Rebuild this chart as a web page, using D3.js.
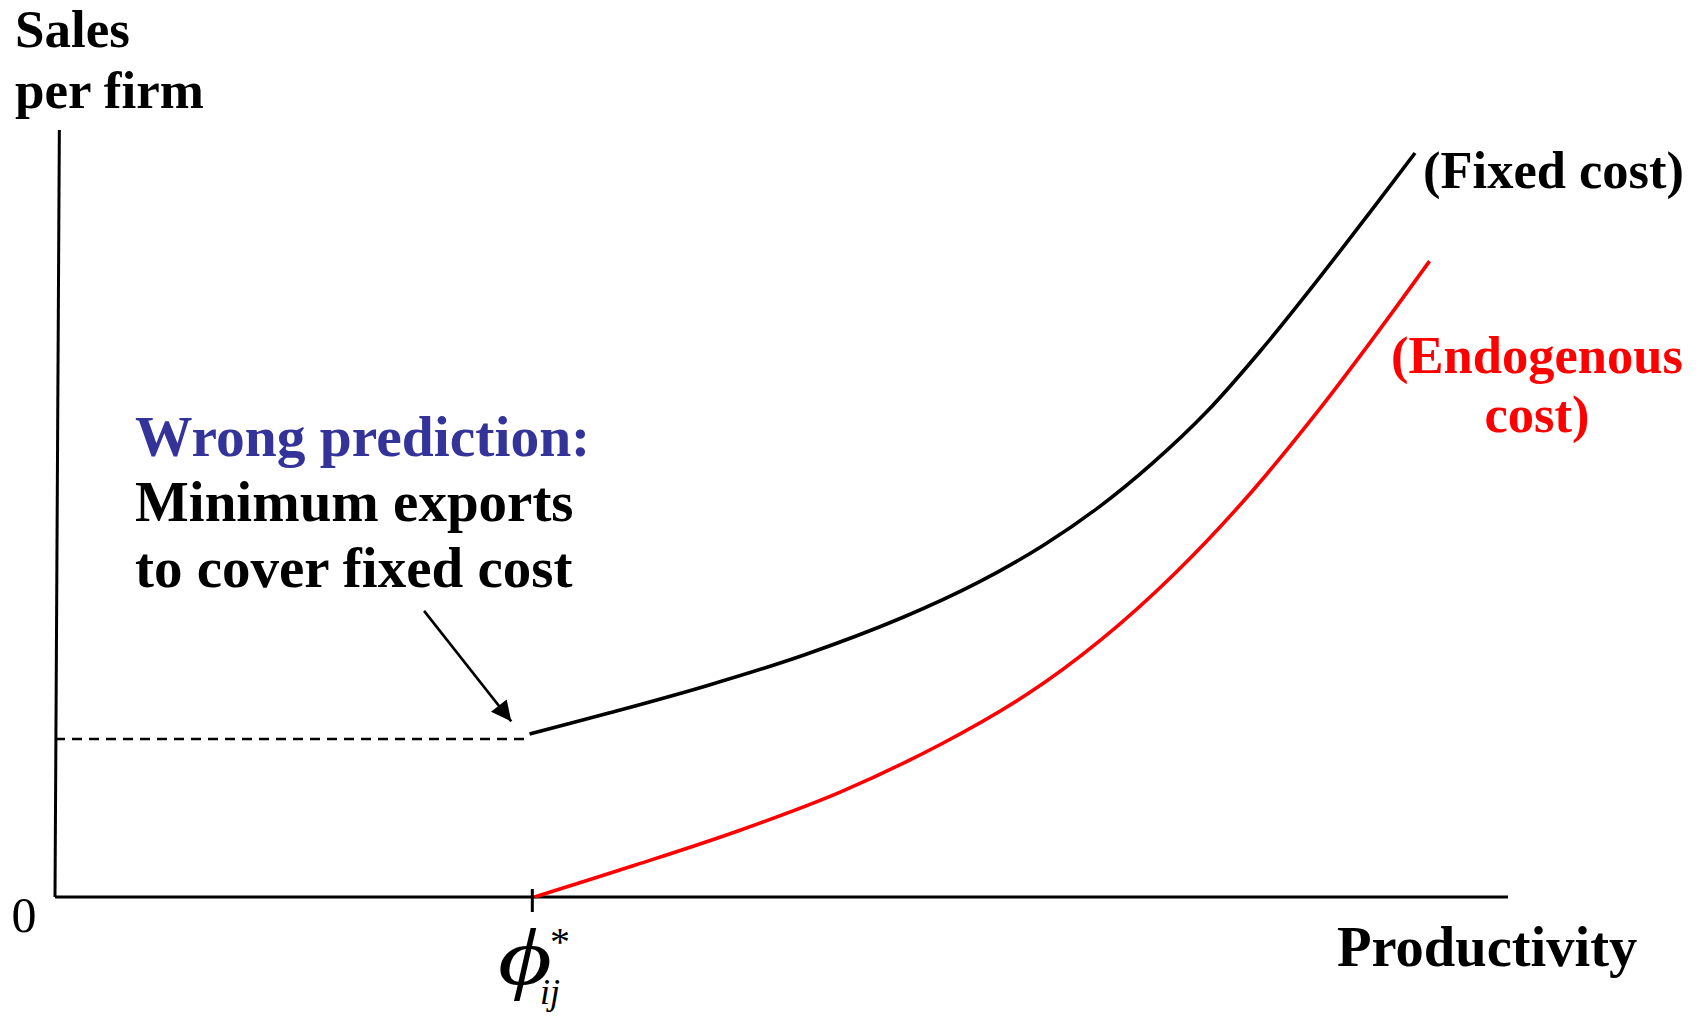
<!DOCTYPE html>
<html>
<head>
<meta charset="utf-8">
<script src="https://cdn.jsdelivr.net/npm/d3@7"></script>
<style>
  html, body { margin: 0; padding: 0; background: #fff; }
  svg { display: block; }
  text { font-family: "Liberation Serif", "Times New Roman", serif; }
</style>
</head>
<body>
<svg id="chart" width="1705" height="1016"></svg>
<script>
// ---- data (abstract units: productivity 0-100, sales 0-100) ----
const phiStar = 32.85;
const minExports = 20.6;

const fixedX = [32.66, 38.12, 44.86, 51.6, 58.33, 63.57, 68.06, 71.8, 75.54, 79.28, 83.03, 86.77, 90.51, 93.6];
const fixedY = [21.25, 23.98, 27.55, 31.59, 36.44, 41.05, 45.9, 50.76, 56.56, 63.29, 71.35, 80.14, 89.3, 97.0];

const endoX = [33.0, 40, 47, 54, 61, 67, 72, 77, 82, 87, 91, 94.6];
const endoY = [0.0, 4.2, 8.61, 13.65, 19.95, 26.55, 33.55, 42.05, 52.05, 63.55, 73.55, 82.9];

const arrowFrom = [25.4, 37.3];
const arrowTo = [31.4, 22.9];

const yLabel = ["Sales", "per firm"];
const xLabel = "Productivity";
const noteLines = ["Wrong prediction:", "Minimum exports", "to cover fixed cost"];
const fixedLabel = "(Fixed cost)";
const endoLabel = ["(Endogenous", "cost)"];

// ---- drawing ----
const svg = d3.select("#chart");
const x = d3.scaleLinear().domain([0, 100]).range([55, 1508]);
const y = d3.scaleLinear().domain([0, 100]).range([897, 130]);

const defs = svg.append("defs");
defs.append("marker")
  .attr("id", "arrowhead")
  .attr("viewBox", "0 0 10 10")
  .attr("refX", 10).attr("refY", 5)
  .attr("markerWidth", 26).attr("markerHeight", 20)
  .attr("markerUnits", "userSpaceOnUse")
  .attr("orient", "auto")
  .append("path").attr("d", "M0,0 L10,5 L0,10 Z").attr("fill", "#000");

// axes
svg.append("line")
  .attr("x1", x(0)).attr("y1", y(0))
  .attr("x2", x(0.3)).attr("y2", y(100))
  .attr("stroke", "#000").attr("stroke-width", 3);
svg.append("line")
  .attr("x1", x(0)).attr("y1", y(0))
  .attr("x2", x(100)).attr("y2", y(0))
  .attr("stroke", "#000").attr("stroke-width", 3);
// phi tick
svg.append("line")
  .attr("x1", x(phiStar)).attr("y1", y(0) - 8)
  .attr("x2", x(phiStar)).attr("y2", y(0) + 15)
  .attr("stroke", "#000").attr("stroke-width", 3);

// dashed minimum-exports line
svg.append("line")
  .attr("x1", x(0)).attr("y1", y(minExports))
  .attr("x2", x(phiStar) - 4).attr("y2", y(minExports))
  .attr("stroke", "#000").attr("stroke-width", 2.3)
  .attr("stroke-dasharray", "10,7");

const line = d3.line()
  .x(d => x(d[0])).y(d => y(d[1]))
  .curve(d3.curveCatmullRom.alpha(0.5));

svg.append("path")
  .datum(d3.zip(fixedX, fixedY))
  .attr("d", line)
  .attr("fill", "none").attr("stroke", "#000").attr("stroke-width", 3.6);

svg.append("path")
  .datum(d3.zip(endoX, endoY))
  .attr("d", line)
  .attr("fill", "none").attr("stroke", "#ff0000").attr("stroke-width", 3.6);

// arrow
svg.append("line")
  .attr("x1", x(arrowFrom[0])).attr("y1", y(arrowFrom[1]))
  .attr("x2", x(arrowTo[0])).attr("y2", y(arrowTo[1]))
  .attr("stroke", "#000").attr("stroke-width", 2.6)
  .attr("marker-end", "url(#arrowhead)");

// texts
const T = (txt, px, py, opts = {}) => svg.append("text")
  .attr("x", px).attr("y", py)
  .attr("font-size", opts.size || 52)
  .attr("font-weight", opts.weight || "bold")
  .attr("font-style", opts.style || "normal")
  .attr("fill", opts.fill || "#000")
  .attr("text-anchor", opts.anchor || "start")
  .text(txt);

T(yLabel[0], 15, 47, { size: 53 });
T(yLabel[1], 15, 108, { size: 53 });
T(xLabel, 1337, 966, { size: 56.5 });
T("0", 24, 932, { size: 50, weight: "normal", anchor: "middle" });

T(noteLines[0], 135, 456, { size: 57.5, fill: "#333399" });
T(noteLines[1], 135, 521, { size: 57 });
T(noteLines[2], 135, 587, { size: 57 });

T(fixedLabel, 1423, 188, { size: 52.5 });
T(endoLabel[0], 1537, 373, { size: 52.5, fill: "#ff0000", anchor: "middle" });
T(endoLabel[1], 1537, 432, { size: 52.5, fill: "#ff0000", anchor: "middle" });

// phi*_ij label
svg.append("text")
  .attr("transform", "translate(498,984) scale(1.3,1)")
  .attr("font-size", 80)
  .attr("font-style", "italic")
  .attr("fill", "#000")
  .text("\u03D5");
T("*", 550, 955, { size: 40, weight: "normal" });
T("ij", 540, 1004, { size: 36, weight: "normal", style: "italic" });
</script>
</body>
</html>
